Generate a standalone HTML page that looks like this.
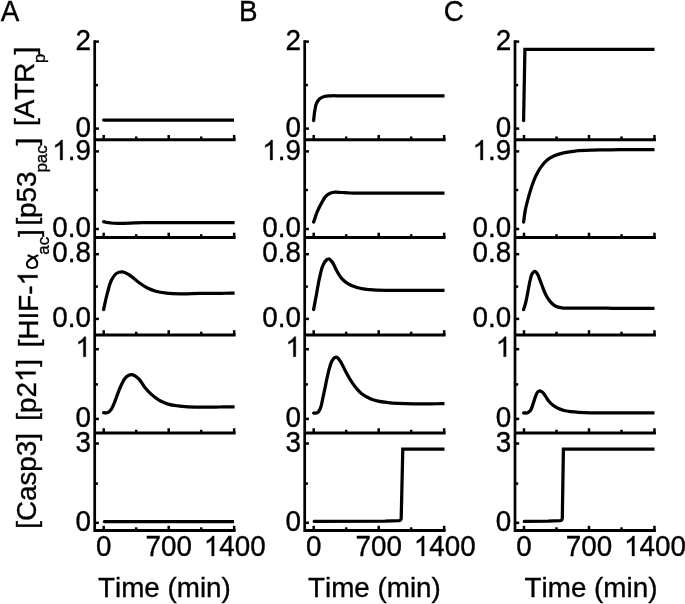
<!DOCTYPE html>
<html><head><meta charset="utf-8"><title>Figure</title>
<style>html,body{margin:0;padding:0;background:#fff;}svg{display:block;will-change:transform;}text{font-family:"Liberation Sans",sans-serif;fill:#000;stroke:#000;stroke-width:0.35px;font-kerning:none;}.h{fill:none;stroke:none;}.g{fill:#000;stroke:#000;stroke-width:25.8;}</style></head><body>
<svg width="685" height="604" viewBox="0 0 685 604">
<rect width="685" height="604" fill="#fff"/>
<g stroke="#000" fill="none" stroke-linecap="butt">
<line x1="94.70" y1="40.30" x2="94.70" y2="531.90" stroke-width="2.70"/>
<line x1="94.70" y1="139.65" x2="235.60" y2="139.65" stroke-width="3.0"/>
<line x1="103.70" y1="139.65" x2="103.70" y2="134.95" stroke-width="2.50"/>
<line x1="136.20" y1="139.65" x2="136.20" y2="136.45" stroke-width="2.50"/>
<line x1="168.70" y1="139.65" x2="168.70" y2="134.95" stroke-width="2.50"/>
<line x1="201.20" y1="139.65" x2="201.20" y2="136.45" stroke-width="2.50"/>
<line x1="234.15" y1="139.65" x2="234.15" y2="134.95" stroke-width="2.50"/>
<line x1="94.70" y1="41.60" x2="98.90" y2="41.60" stroke-width="2.50"/>
<line x1="94.70" y1="128.60" x2="98.90" y2="128.60" stroke-width="2.50"/>
<line x1="94.70" y1="85.10" x2="97.90" y2="85.10" stroke-width="2.50"/>
<line x1="94.70" y1="237.40" x2="235.60" y2="237.40" stroke-width="3.0"/>
<line x1="103.70" y1="237.40" x2="103.70" y2="232.70" stroke-width="2.50"/>
<line x1="136.20" y1="237.40" x2="136.20" y2="234.20" stroke-width="2.50"/>
<line x1="168.70" y1="237.40" x2="168.70" y2="232.70" stroke-width="2.50"/>
<line x1="201.20" y1="237.40" x2="201.20" y2="234.20" stroke-width="2.50"/>
<line x1="234.15" y1="237.40" x2="234.15" y2="232.70" stroke-width="2.50"/>
<line x1="94.70" y1="151.40" x2="98.90" y2="151.40" stroke-width="2.50"/>
<line x1="94.70" y1="229.00" x2="98.90" y2="229.00" stroke-width="2.50"/>
<line x1="94.70" y1="190.00" x2="97.90" y2="190.00" stroke-width="2.50"/>
<line x1="94.70" y1="334.90" x2="235.60" y2="334.90" stroke-width="3.0"/>
<line x1="103.70" y1="334.90" x2="103.70" y2="330.20" stroke-width="2.50"/>
<line x1="136.20" y1="334.90" x2="136.20" y2="331.70" stroke-width="2.50"/>
<line x1="168.70" y1="334.90" x2="168.70" y2="330.20" stroke-width="2.50"/>
<line x1="201.20" y1="334.90" x2="201.20" y2="331.70" stroke-width="2.50"/>
<line x1="234.15" y1="334.90" x2="234.15" y2="330.20" stroke-width="2.50"/>
<line x1="94.70" y1="254.20" x2="98.90" y2="254.20" stroke-width="2.50"/>
<line x1="94.70" y1="318.90" x2="98.90" y2="318.90" stroke-width="2.50"/>
<line x1="94.70" y1="286.60" x2="97.90" y2="286.60" stroke-width="2.50"/>
<line x1="94.70" y1="432.95" x2="235.60" y2="432.95" stroke-width="3.0"/>
<line x1="103.70" y1="432.95" x2="103.70" y2="428.25" stroke-width="2.50"/>
<line x1="136.20" y1="432.95" x2="136.20" y2="429.75" stroke-width="2.50"/>
<line x1="168.70" y1="432.95" x2="168.70" y2="428.25" stroke-width="2.50"/>
<line x1="201.20" y1="432.95" x2="201.20" y2="429.75" stroke-width="2.50"/>
<line x1="234.15" y1="432.95" x2="234.15" y2="428.25" stroke-width="2.50"/>
<line x1="94.70" y1="349.20" x2="98.90" y2="349.20" stroke-width="2.50"/>
<line x1="94.70" y1="418.90" x2="98.90" y2="418.90" stroke-width="2.50"/>
<line x1="94.70" y1="384.40" x2="97.90" y2="384.40" stroke-width="2.50"/>
<line x1="94.70" y1="530.50" x2="235.60" y2="530.50" stroke-width="3.0"/>
<line x1="103.70" y1="530.50" x2="103.70" y2="525.80" stroke-width="2.50"/>
<line x1="136.20" y1="530.50" x2="136.20" y2="527.30" stroke-width="2.50"/>
<line x1="168.70" y1="530.50" x2="168.70" y2="525.80" stroke-width="2.50"/>
<line x1="201.20" y1="530.50" x2="201.20" y2="527.30" stroke-width="2.50"/>
<line x1="234.15" y1="530.50" x2="234.15" y2="525.80" stroke-width="2.50"/>
<line x1="94.70" y1="443.50" x2="98.90" y2="443.50" stroke-width="2.50"/>
<line x1="94.70" y1="522.80" x2="98.90" y2="522.80" stroke-width="2.50"/>
<line x1="94.70" y1="483.60" x2="97.90" y2="483.60" stroke-width="2.50"/>
<line x1="304.70" y1="40.30" x2="304.70" y2="531.90" stroke-width="2.70"/>
<line x1="304.70" y1="139.65" x2="445.60" y2="139.65" stroke-width="3.0"/>
<line x1="313.70" y1="139.65" x2="313.70" y2="134.95" stroke-width="2.50"/>
<line x1="346.20" y1="139.65" x2="346.20" y2="136.45" stroke-width="2.50"/>
<line x1="378.70" y1="139.65" x2="378.70" y2="134.95" stroke-width="2.50"/>
<line x1="411.20" y1="139.65" x2="411.20" y2="136.45" stroke-width="2.50"/>
<line x1="444.15" y1="139.65" x2="444.15" y2="134.95" stroke-width="2.50"/>
<line x1="304.70" y1="41.60" x2="308.90" y2="41.60" stroke-width="2.50"/>
<line x1="304.70" y1="128.60" x2="308.90" y2="128.60" stroke-width="2.50"/>
<line x1="304.70" y1="85.10" x2="307.90" y2="85.10" stroke-width="2.50"/>
<line x1="304.70" y1="237.40" x2="445.60" y2="237.40" stroke-width="3.0"/>
<line x1="313.70" y1="237.40" x2="313.70" y2="232.70" stroke-width="2.50"/>
<line x1="346.20" y1="237.40" x2="346.20" y2="234.20" stroke-width="2.50"/>
<line x1="378.70" y1="237.40" x2="378.70" y2="232.70" stroke-width="2.50"/>
<line x1="411.20" y1="237.40" x2="411.20" y2="234.20" stroke-width="2.50"/>
<line x1="444.15" y1="237.40" x2="444.15" y2="232.70" stroke-width="2.50"/>
<line x1="304.70" y1="151.40" x2="308.90" y2="151.40" stroke-width="2.50"/>
<line x1="304.70" y1="229.00" x2="308.90" y2="229.00" stroke-width="2.50"/>
<line x1="304.70" y1="190.00" x2="307.90" y2="190.00" stroke-width="2.50"/>
<line x1="304.70" y1="334.90" x2="445.60" y2="334.90" stroke-width="3.0"/>
<line x1="313.70" y1="334.90" x2="313.70" y2="330.20" stroke-width="2.50"/>
<line x1="346.20" y1="334.90" x2="346.20" y2="331.70" stroke-width="2.50"/>
<line x1="378.70" y1="334.90" x2="378.70" y2="330.20" stroke-width="2.50"/>
<line x1="411.20" y1="334.90" x2="411.20" y2="331.70" stroke-width="2.50"/>
<line x1="444.15" y1="334.90" x2="444.15" y2="330.20" stroke-width="2.50"/>
<line x1="304.70" y1="254.20" x2="308.90" y2="254.20" stroke-width="2.50"/>
<line x1="304.70" y1="318.90" x2="308.90" y2="318.90" stroke-width="2.50"/>
<line x1="304.70" y1="286.60" x2="307.90" y2="286.60" stroke-width="2.50"/>
<line x1="304.70" y1="432.95" x2="445.60" y2="432.95" stroke-width="3.0"/>
<line x1="313.70" y1="432.95" x2="313.70" y2="428.25" stroke-width="2.50"/>
<line x1="346.20" y1="432.95" x2="346.20" y2="429.75" stroke-width="2.50"/>
<line x1="378.70" y1="432.95" x2="378.70" y2="428.25" stroke-width="2.50"/>
<line x1="411.20" y1="432.95" x2="411.20" y2="429.75" stroke-width="2.50"/>
<line x1="444.15" y1="432.95" x2="444.15" y2="428.25" stroke-width="2.50"/>
<line x1="304.70" y1="349.20" x2="308.90" y2="349.20" stroke-width="2.50"/>
<line x1="304.70" y1="418.90" x2="308.90" y2="418.90" stroke-width="2.50"/>
<line x1="304.70" y1="384.40" x2="307.90" y2="384.40" stroke-width="2.50"/>
<line x1="304.70" y1="530.50" x2="445.60" y2="530.50" stroke-width="3.0"/>
<line x1="313.70" y1="530.50" x2="313.70" y2="525.80" stroke-width="2.50"/>
<line x1="346.20" y1="530.50" x2="346.20" y2="527.30" stroke-width="2.50"/>
<line x1="378.70" y1="530.50" x2="378.70" y2="525.80" stroke-width="2.50"/>
<line x1="411.20" y1="530.50" x2="411.20" y2="527.30" stroke-width="2.50"/>
<line x1="444.15" y1="530.50" x2="444.15" y2="525.80" stroke-width="2.50"/>
<line x1="304.70" y1="443.50" x2="308.90" y2="443.50" stroke-width="2.50"/>
<line x1="304.70" y1="522.80" x2="308.90" y2="522.80" stroke-width="2.50"/>
<line x1="304.70" y1="483.60" x2="307.90" y2="483.60" stroke-width="2.50"/>
<line x1="515.00" y1="40.30" x2="515.00" y2="531.90" stroke-width="2.70"/>
<line x1="515.00" y1="139.65" x2="655.90" y2="139.65" stroke-width="3.0"/>
<line x1="524.00" y1="139.65" x2="524.00" y2="134.95" stroke-width="2.50"/>
<line x1="556.50" y1="139.65" x2="556.50" y2="136.45" stroke-width="2.50"/>
<line x1="589.00" y1="139.65" x2="589.00" y2="134.95" stroke-width="2.50"/>
<line x1="621.50" y1="139.65" x2="621.50" y2="136.45" stroke-width="2.50"/>
<line x1="654.45" y1="139.65" x2="654.45" y2="134.95" stroke-width="2.50"/>
<line x1="515.00" y1="41.60" x2="519.20" y2="41.60" stroke-width="2.50"/>
<line x1="515.00" y1="128.60" x2="519.20" y2="128.60" stroke-width="2.50"/>
<line x1="515.00" y1="85.10" x2="518.20" y2="85.10" stroke-width="2.50"/>
<line x1="515.00" y1="237.40" x2="655.90" y2="237.40" stroke-width="3.0"/>
<line x1="524.00" y1="237.40" x2="524.00" y2="232.70" stroke-width="2.50"/>
<line x1="556.50" y1="237.40" x2="556.50" y2="234.20" stroke-width="2.50"/>
<line x1="589.00" y1="237.40" x2="589.00" y2="232.70" stroke-width="2.50"/>
<line x1="621.50" y1="237.40" x2="621.50" y2="234.20" stroke-width="2.50"/>
<line x1="654.45" y1="237.40" x2="654.45" y2="232.70" stroke-width="2.50"/>
<line x1="515.00" y1="151.40" x2="519.20" y2="151.40" stroke-width="2.50"/>
<line x1="515.00" y1="229.00" x2="519.20" y2="229.00" stroke-width="2.50"/>
<line x1="515.00" y1="190.00" x2="518.20" y2="190.00" stroke-width="2.50"/>
<line x1="515.00" y1="334.90" x2="655.90" y2="334.90" stroke-width="3.0"/>
<line x1="524.00" y1="334.90" x2="524.00" y2="330.20" stroke-width="2.50"/>
<line x1="556.50" y1="334.90" x2="556.50" y2="331.70" stroke-width="2.50"/>
<line x1="589.00" y1="334.90" x2="589.00" y2="330.20" stroke-width="2.50"/>
<line x1="621.50" y1="334.90" x2="621.50" y2="331.70" stroke-width="2.50"/>
<line x1="654.45" y1="334.90" x2="654.45" y2="330.20" stroke-width="2.50"/>
<line x1="515.00" y1="254.20" x2="519.20" y2="254.20" stroke-width="2.50"/>
<line x1="515.00" y1="318.90" x2="519.20" y2="318.90" stroke-width="2.50"/>
<line x1="515.00" y1="286.60" x2="518.20" y2="286.60" stroke-width="2.50"/>
<line x1="515.00" y1="432.95" x2="655.90" y2="432.95" stroke-width="3.0"/>
<line x1="524.00" y1="432.95" x2="524.00" y2="428.25" stroke-width="2.50"/>
<line x1="556.50" y1="432.95" x2="556.50" y2="429.75" stroke-width="2.50"/>
<line x1="589.00" y1="432.95" x2="589.00" y2="428.25" stroke-width="2.50"/>
<line x1="621.50" y1="432.95" x2="621.50" y2="429.75" stroke-width="2.50"/>
<line x1="654.45" y1="432.95" x2="654.45" y2="428.25" stroke-width="2.50"/>
<line x1="515.00" y1="349.20" x2="519.20" y2="349.20" stroke-width="2.50"/>
<line x1="515.00" y1="418.90" x2="519.20" y2="418.90" stroke-width="2.50"/>
<line x1="515.00" y1="384.40" x2="518.20" y2="384.40" stroke-width="2.50"/>
<line x1="515.00" y1="530.50" x2="655.90" y2="530.50" stroke-width="3.0"/>
<line x1="524.00" y1="530.50" x2="524.00" y2="525.80" stroke-width="2.50"/>
<line x1="556.50" y1="530.50" x2="556.50" y2="527.30" stroke-width="2.50"/>
<line x1="589.00" y1="530.50" x2="589.00" y2="525.80" stroke-width="2.50"/>
<line x1="621.50" y1="530.50" x2="621.50" y2="527.30" stroke-width="2.50"/>
<line x1="654.45" y1="530.50" x2="654.45" y2="525.80" stroke-width="2.50"/>
<line x1="515.00" y1="443.50" x2="519.20" y2="443.50" stroke-width="2.50"/>
<line x1="515.00" y1="522.80" x2="519.20" y2="522.80" stroke-width="2.50"/>
<line x1="515.00" y1="483.60" x2="518.20" y2="483.60" stroke-width="2.50"/>
</g>
<g stroke="#000" fill="none" stroke-width="3.25" stroke-linejoin="miter" stroke-linecap="butt">
<path d="M103.60 120.00 L234.00 120.00"/>
<path d="M103.60 221.70 C104.57 221.93 105.52 222.21 106.50 222.40 C107.98 222.69 109.49 222.85 111.00 223.00 C113.99 223.30 117.00 223.26 120.00 223.30 C123.33 223.34 126.67 223.35 130.00 223.20 C132.00 223.11 134.00 222.90 136.00 222.80 C138.00 222.70 140.00 222.64 142.00 222.60 C144.81 222.55 147.61 222.60 150.42 222.60 C153.22 222.60 156.03 222.60 158.84 222.60 C161.64 222.60 164.45 222.60 167.25 222.60 C170.06 222.60 172.87 222.60 175.67 222.60 C178.48 222.60 181.28 222.60 184.09 222.60 C186.90 222.60 189.70 222.60 192.51 222.60 C195.32 222.60 198.12 222.60 200.93 222.60 C203.73 222.60 206.54 222.60 209.35 222.60 C212.15 222.60 214.96 222.60 217.76 222.60 C220.57 222.60 223.38 222.60 226.18 222.60 C228.99 222.60 231.79 222.60 234.60 222.60"/>
<path d="M103.60 309.60 C104.90 303.93 105.90 298.19 107.50 292.60 C108.78 288.14 109.55 283.40 111.90 279.40 C113.14 277.28 114.24 274.83 116.30 273.50 C118.07 272.35 120.29 271.71 122.40 271.80 C124.96 271.91 127.18 273.71 129.40 275.00 C132.64 276.89 135.16 279.81 138.20 282.00 C141.01 284.03 143.82 286.12 146.90 287.70 C149.71 289.14 152.67 290.30 155.70 291.20 C159.24 292.25 162.93 292.74 166.60 293.20 C171.70 293.84 176.86 293.84 182.00 293.90 C187.84 293.96 193.66 293.48 199.50 293.40 C202.42 293.36 205.35 293.37 208.28 293.35 C211.20 293.33 214.12 293.32 217.05 293.30 C219.97 293.28 222.90 293.27 225.82 293.25 C228.75 293.23 231.67 293.22 234.60 293.20"/>
<path d="M103.60 412.70 C105.03 412.67 106.58 413.15 107.90 412.60 C109.10 412.10 109.96 410.99 110.80 410.00 C112.23 408.32 112.89 406.11 113.80 404.10 C114.91 401.63 115.73 399.03 116.70 396.50 C117.67 393.97 118.55 391.40 119.60 388.90 C120.51 386.74 121.38 384.56 122.50 382.50 C123.38 380.88 124.12 379.12 125.40 377.80 C126.28 376.89 127.26 376.04 128.40 375.50 C129.31 375.07 130.30 374.72 131.30 374.70 C132.51 374.67 133.70 375.18 134.80 375.70 C136.39 376.45 137.64 377.78 138.90 379.00 C141.30 381.34 142.58 384.61 144.70 387.20 C146.54 389.45 148.47 391.63 150.60 393.60 C152.42 395.29 154.36 396.88 156.40 398.30 C158.25 399.59 160.17 400.81 162.20 401.80 C164.10 402.73 166.08 403.48 168.10 404.10 C171.31 405.08 174.68 405.45 178.00 405.90 C181.32 406.35 184.66 406.58 188.00 406.80 C193.29 407.14 198.60 407.20 203.90 407.20 C206.46 407.20 209.02 407.13 211.57 407.10 C214.13 407.07 216.69 407.03 219.25 407.00 C221.81 406.97 224.37 406.93 226.93 406.90 C229.48 406.87 232.04 406.83 234.60 406.80"/>
<path d="M104.40 521.60 L234.00 521.60"/>
<path d="M313.60 120.60 C314.03 117.07 314.24 113.50 314.90 110.00 C315.31 107.81 315.48 105.52 316.40 103.50 C317.20 101.73 318.21 99.94 319.70 98.70 C320.96 97.65 322.54 97.00 324.10 96.50 C326.21 95.82 328.49 95.93 330.70 95.80 C333.61 95.62 336.54 95.80 339.45 95.80 C342.37 95.80 345.29 95.80 348.21 95.80 C351.13 95.80 354.04 95.80 356.96 95.80 C359.88 95.80 362.80 95.80 365.72 95.80 C368.63 95.80 371.55 95.80 374.47 95.80 C377.39 95.80 380.31 95.80 383.22 95.80 C386.14 95.80 389.06 95.80 391.98 95.80 C394.89 95.80 397.81 95.80 400.73 95.80 C403.65 95.80 406.57 95.80 409.48 95.80 C412.40 95.80 415.32 95.80 418.24 95.80 C421.16 95.80 424.07 95.80 426.99 95.80 C429.91 95.80 432.83 95.80 435.75 95.80 C438.66 95.80 441.58 95.80 444.50 95.80"/>
<path d="M313.60 222.10 C314.90 218.47 315.97 214.74 317.50 211.20 C318.80 208.19 320.23 205.23 321.90 202.40 C323.24 200.12 324.33 197.57 326.30 195.80 C327.59 194.64 329.08 193.63 330.70 193.00 C332.06 192.47 333.54 192.25 335.00 192.10 C337.19 191.88 339.40 192.37 341.60 192.50 C344.53 192.67 347.46 192.92 350.40 193.00 C353.25 193.08 356.10 193.00 358.95 193.00 C361.81 193.00 364.66 193.00 367.51 193.00 C370.36 193.00 373.21 193.00 376.06 193.00 C378.92 193.00 381.77 193.00 384.62 193.00 C387.47 193.00 390.32 193.00 393.17 193.00 C396.02 193.00 398.88 193.00 401.73 193.00 C404.58 193.00 407.43 193.00 410.28 193.00 C413.13 193.00 415.98 193.00 418.84 193.00 C421.69 193.00 424.54 193.00 427.39 193.00 C430.24 193.00 433.09 193.00 435.95 193.00 C438.80 193.00 441.65 193.00 444.50 193.00"/>
<path d="M313.60 309.60 C314.53 304.63 315.47 299.67 316.40 294.70 C317.50 288.87 318.32 282.97 319.70 277.20 C320.66 273.17 321.11 268.89 323.00 265.20 C323.92 263.40 324.65 261.27 326.30 260.10 C326.97 259.63 327.68 259.05 328.50 259.00 C329.88 258.91 330.82 260.53 331.80 261.50 C333.97 263.65 334.57 266.95 336.10 269.60 C337.82 272.57 339.30 275.75 341.60 278.30 C343.52 280.43 345.77 282.29 348.20 283.80 C350.88 285.46 353.89 286.56 356.90 287.50 C361.16 288.84 365.67 289.21 370.10 289.70 C375.90 290.35 381.76 290.33 387.60 290.40 C390.31 290.43 393.02 290.40 395.73 290.40 C398.44 290.40 401.15 290.40 403.86 290.40 C406.57 290.40 409.28 290.40 411.99 290.40 C414.70 290.40 417.40 290.40 420.11 290.40 C422.82 290.40 425.53 290.40 428.24 290.40 C430.95 290.40 433.66 290.40 436.37 290.40 C439.08 290.40 441.79 290.40 444.50 290.40"/>
<path d="M313.60 413.00 C314.83 412.93 316.17 413.31 317.30 412.80 C318.92 412.07 319.49 409.98 320.30 408.40 C321.75 405.56 321.88 402.21 322.60 399.10 C323.42 395.58 324.15 392.04 324.90 388.50 C325.72 384.64 326.42 380.75 327.30 376.90 C328.02 373.75 328.64 370.58 329.60 367.50 C330.27 365.34 330.75 363.05 331.90 361.10 C332.58 359.95 333.16 358.58 334.30 357.90 C334.91 357.54 335.59 357.17 336.30 357.20 C337.41 357.25 338.12 358.50 338.90 359.30 C340.19 360.63 340.97 362.39 341.90 364.00 C343.21 366.26 344.19 368.69 345.40 371.00 C346.53 373.15 347.67 375.30 348.90 377.40 C350.20 379.61 351.51 381.81 353.00 383.90 C354.28 385.70 355.64 387.44 357.10 389.10 C358.55 390.75 359.97 392.45 361.70 393.80 C363.15 394.93 364.80 395.80 366.40 396.70 C368.28 397.76 370.18 398.84 372.20 399.60 C374.11 400.32 376.11 400.76 378.10 401.20 C381.35 401.92 384.69 402.23 388.00 402.60 C391.32 402.97 394.66 403.20 398.00 403.40 C403.29 403.72 408.60 403.87 413.90 403.90 C416.45 403.91 419.00 403.87 421.55 403.85 C424.10 403.83 426.65 403.82 429.20 403.80 C431.75 403.78 434.30 403.77 436.85 403.75 C439.40 403.73 441.95 403.72 444.50 403.70"/>
<path d="M314.2 521.4 L385 521.2 L398.6 520.6 Q400.9 520.4 401.2 518.4 L402.8 449 L444.5 449"/>
<path d="M523.6 120.6 L524.9 49.4 L654.5 49.4"/>
<path d="M523.60 222.10 C524.17 218.10 524.54 214.07 525.30 210.10 C526.16 205.65 527.38 201.27 528.60 196.90 C529.62 193.24 530.65 189.58 531.90 186.00 C533.20 182.27 534.53 178.53 536.30 175.00 C537.61 172.38 539.00 169.78 540.70 167.40 C542.59 164.75 544.67 162.16 547.20 160.10 C549.21 158.47 551.47 157.12 553.80 156.00 C556.58 154.66 559.61 153.87 562.60 153.10 C566.88 151.99 571.31 151.50 575.70 151.00 C581.50 150.34 587.36 150.27 593.20 150.10 C596.12 150.01 599.04 149.99 601.97 149.93 C604.89 149.88 607.81 149.82 610.73 149.77 C613.66 149.71 616.58 149.63 619.50 149.60 C622.42 149.57 625.33 149.60 628.25 149.60 C631.17 149.60 634.08 149.60 637.00 149.60 C639.92 149.60 642.83 149.60 645.75 149.60 C648.67 149.60 651.58 149.60 654.50 149.60"/>
<path d="M523.50 309.70 C524.00 308.23 524.56 306.78 525.00 305.30 C525.72 302.91 526.18 300.44 526.70 298.00 C527.37 294.85 527.88 291.66 528.50 288.50 C529.08 285.53 529.49 282.52 530.30 279.60 C530.87 277.57 530.98 275.24 532.30 273.60 C533.01 272.72 533.77 271.37 534.90 271.40 C536.08 271.43 536.69 272.96 537.40 273.90 C538.71 275.63 539.09 277.89 539.90 279.90 C540.95 282.51 541.86 285.18 542.90 287.80 C543.83 290.15 544.64 292.56 545.80 294.80 C546.69 296.53 547.63 298.24 548.80 299.80 C549.71 301.01 550.69 302.17 551.80 303.20 C553.02 304.34 554.32 305.43 555.80 306.20 C557.61 307.15 559.68 307.54 561.70 307.90 C564.33 308.36 567.03 308.15 569.70 308.20 C572.53 308.26 575.35 308.21 578.18 308.21 C581.01 308.21 583.83 308.22 586.66 308.22 C589.49 308.22 592.31 308.23 595.14 308.23 C597.97 308.23 600.79 308.24 603.62 308.24 C606.45 308.24 609.27 308.25 612.10 308.25 C614.93 308.25 617.75 308.26 620.58 308.26 C623.41 308.26 626.23 308.27 629.06 308.27 C631.89 308.27 634.71 308.28 637.54 308.28 C640.37 308.28 643.19 308.29 646.02 308.29 C648.85 308.29 651.67 308.30 654.50 308.30"/>
<path d="M523.60 412.90 C524.97 412.87 526.43 413.32 527.70 412.80 C528.73 412.38 529.56 411.53 530.30 410.70 C531.76 409.05 532.02 406.66 532.80 404.60 C533.76 402.07 534.34 399.39 535.40 396.90 C536.14 395.16 536.38 392.92 537.90 391.80 C538.52 391.34 539.22 390.81 540.00 390.80 C540.97 390.79 541.74 391.69 542.50 392.30 C543.83 393.38 544.60 395.01 545.60 396.40 C546.68 397.90 547.54 399.56 548.70 401.00 C549.90 402.48 551.21 403.90 552.70 405.10 C554.28 406.38 556.07 407.41 557.90 408.30 C559.84 409.24 561.91 409.94 564.00 410.50 C566.32 411.12 568.72 411.39 571.10 411.70 C573.82 412.05 576.56 412.22 579.30 412.40 C582.86 412.63 586.43 412.74 590.00 412.80 C592.69 412.85 595.38 412.81 598.06 412.81 C600.75 412.82 603.44 412.82 606.12 412.82 C608.81 412.83 611.50 412.83 614.19 412.84 C616.88 412.84 619.56 412.85 622.25 412.85 C624.94 412.85 627.62 412.86 630.31 412.86 C633.00 412.87 635.69 412.87 638.38 412.88 C641.06 412.88 643.75 412.88 646.44 412.89 C649.12 412.89 651.81 412.90 654.50 412.90"/>
<path d="M524.2 521.4 L548 521.2 L560.0 520.7 Q562.1 520.5 562.3 518.4 L563.4 449 L654.5 449"/>
</g>
<g fill="#000"><circle cx="103.60" cy="120.00" r="1.62"/><circle cx="103.60" cy="221.70" r="1.62"/><circle cx="103.60" cy="309.60" r="1.62"/><circle cx="103.60" cy="412.70" r="1.62"/><circle cx="104.40" cy="521.60" r="1.62"/><circle cx="313.60" cy="120.60" r="1.62"/><circle cx="313.60" cy="222.10" r="1.62"/><circle cx="313.60" cy="309.60" r="1.62"/><circle cx="313.60" cy="413.00" r="1.62"/><circle cx="314.20" cy="521.40" r="1.62"/><circle cx="523.60" cy="120.60" r="1.62"/><circle cx="523.60" cy="222.10" r="1.62"/><circle cx="523.50" cy="309.70" r="1.62"/><circle cx="523.60" cy="412.90" r="1.62"/><circle cx="524.20" cy="521.40" r="1.62"/></g>
<g font-size="27.8">
<text transform="translate(75.44 50.00) scale(1 1.040)">2</text>
<text transform="translate(75.44 137.20) scale(1 1.040)">0</text>
<text transform="translate(52.25 160.00) scale(1 1.040)"><tspan class="h">1</tspan>.9</text>
<path class="g" transform="translate(52.25 160.00) scale(0.013574 -0.013574)" d="M763 0H583V1147Q518 1085 412.5 1023T223 930V1104Q373 1174.5 485.5 1275T645 1470H763Z"/>
<text transform="translate(52.25 237.20) scale(1 1.040)">0.0</text>
<text transform="translate(52.25 261.90) scale(1 1.040)">0.8</text>
<text transform="translate(52.25 327.40) scale(1 1.040)">0.0</text>
<text transform="translate(75.44 356.70) scale(1 1.040)"><tspan class="h">1</tspan></text>
<path class="g" transform="translate(75.44 356.70) scale(0.013574 -0.013574)" d="M763 0H583V1147Q518 1085 412.5 1023T223 930V1104Q373 1174.5 485.5 1275T645 1470H763Z"/>
<text transform="translate(75.44 427.40) scale(1 1.040)">0</text>
<text transform="translate(75.44 451.50) scale(1 1.040)">3</text>
<text transform="translate(75.44 531.30) scale(1 1.040)">0</text>
<text transform="translate(95.97 555.90) scale(1 1.040)">0</text>
<text transform="translate(145.51 555.90) scale(1 1.040)">700</text>
<text transform="translate(203.78 555.90) scale(1 1.040)"><tspan class="h">1</tspan>400</text>
<path class="g" transform="translate(203.78 555.90) scale(0.013574 -0.013574)" d="M763 0H583V1147Q518 1085 412.5 1023T223 930V1104Q373 1174.5 485.5 1275T645 1470H763Z"/>
<text x="98.00" y="597.20">Time (min)</text>
<text transform="translate(285.44 50.00) scale(1 1.040)">2</text>
<text transform="translate(285.44 137.20) scale(1 1.040)">0</text>
<text transform="translate(262.25 160.00) scale(1 1.040)"><tspan class="h">1</tspan>.9</text>
<path class="g" transform="translate(262.25 160.00) scale(0.013574 -0.013574)" d="M763 0H583V1147Q518 1085 412.5 1023T223 930V1104Q373 1174.5 485.5 1275T645 1470H763Z"/>
<text transform="translate(262.25 237.20) scale(1 1.040)">0.0</text>
<text transform="translate(262.25 261.90) scale(1 1.040)">0.8</text>
<text transform="translate(262.25 327.40) scale(1 1.040)">0.0</text>
<text transform="translate(285.44 356.70) scale(1 1.040)"><tspan class="h">1</tspan></text>
<path class="g" transform="translate(285.44 356.70) scale(0.013574 -0.013574)" d="M763 0H583V1147Q518 1085 412.5 1023T223 930V1104Q373 1174.5 485.5 1275T645 1470H763Z"/>
<text transform="translate(285.44 427.40) scale(1 1.040)">0</text>
<text transform="translate(285.44 451.50) scale(1 1.040)">3</text>
<text transform="translate(285.44 531.30) scale(1 1.040)">0</text>
<text transform="translate(305.97 555.90) scale(1 1.040)">0</text>
<text transform="translate(355.51 555.90) scale(1 1.040)">700</text>
<text transform="translate(413.78 555.90) scale(1 1.040)"><tspan class="h">1</tspan>400</text>
<path class="g" transform="translate(413.78 555.90) scale(0.013574 -0.013574)" d="M763 0H583V1147Q518 1085 412.5 1023T223 930V1104Q373 1174.5 485.5 1275T645 1470H763Z"/>
<text x="308.00" y="597.20">Time (min)</text>
<text transform="translate(495.74 50.00) scale(1 1.040)">2</text>
<text transform="translate(495.74 137.20) scale(1 1.040)">0</text>
<text transform="translate(472.55 160.00) scale(1 1.040)"><tspan class="h">1</tspan>.9</text>
<path class="g" transform="translate(472.55 160.00) scale(0.013574 -0.013574)" d="M763 0H583V1147Q518 1085 412.5 1023T223 930V1104Q373 1174.5 485.5 1275T645 1470H763Z"/>
<text transform="translate(472.55 237.20) scale(1 1.040)">0.0</text>
<text transform="translate(472.55 261.90) scale(1 1.040)">0.8</text>
<text transform="translate(472.55 327.40) scale(1 1.040)">0.0</text>
<text transform="translate(495.74 356.70) scale(1 1.040)"><tspan class="h">1</tspan></text>
<path class="g" transform="translate(495.74 356.70) scale(0.013574 -0.013574)" d="M763 0H583V1147Q518 1085 412.5 1023T223 930V1104Q373 1174.5 485.5 1275T645 1470H763Z"/>
<text transform="translate(495.74 427.40) scale(1 1.040)">0</text>
<text transform="translate(495.74 451.50) scale(1 1.040)">3</text>
<text transform="translate(495.74 531.30) scale(1 1.040)">0</text>
<text transform="translate(516.27 555.90) scale(1 1.040)">0</text>
<text transform="translate(565.81 555.90) scale(1 1.040)">700</text>
<text transform="translate(624.08 555.90) scale(1 1.040)"><tspan class="h">1</tspan>400</text>
<path class="g" transform="translate(624.08 555.90) scale(0.013574 -0.013574)" d="M763 0H583V1147Q518 1085 412.5 1023T223 930V1104Q373 1174.5 485.5 1275T645 1470H763Z"/>
<text x="524.60" y="597.20">Time (min)</text>
<text transform="translate(0.70 21.00) scale(1 1.040)">A</text>
<text transform="translate(239.00 21.00) scale(1 1.040)">B</text>
<text transform="translate(443.80 21.00) scale(1 1.040)">C</text>
</g>
<g transform="translate(34.30 125.90) rotate(-90)" font-size="27.8"><text><tspan>[ATR</tspan><tspan font-size="16.5" dy="10.2" dx="-0.5">p</tspan><tspan dy="-10.2" dx="-0.7">]</tspan></text></g>
<g transform="translate(35.60 225.60) rotate(-90)" font-size="27.8"><text><tspan>[p53</tspan><tspan font-size="17.0" dy="11.1" dx="-1.1">pac</tspan><tspan dy="-11.1" dx="-0.4">]</tspan></text></g>
<g transform="translate(37.60 347.30) rotate(-90)" font-size="27.8"><text><tspan>[HIF-<tspan class="h">1</tspan><tspan class="h">α</tspan></tspan><tspan font-size="17.0" dy="11.0" dx="-0.7">ac</tspan><tspan dy="-11.0" dx="-0.2">]</tspan></text><path class="g" transform="translate(61.76 0.00) scale(0.013574 -0.013574)" d="M763 0H583V1147Q518 1085 412.5 1023T223 930V1104Q373 1174.5 485.5 1275T645 1470H763Z"/><path transform="translate(78.22 0.6)" fill="none" stroke="#000" stroke-width="2.0" stroke-linecap="butt" d="M13.8 -10.6 C12.6 -6.2 9.6 -0.9 5.3 -0.9 C2.4 -0.9 1.1 -3.2 1.1 -6.1 C1.1 -9.0 2.6 -11.3 5.3 -11.3 C9.4 -11.3 11.6 -4.4 13.9 0.1"/></g>
<g transform="translate(35.60 420.80) rotate(-90)" font-size="27.8"><text>[p2<tspan class="h">1</tspan>]</text><path class="g" transform="translate(38.65 0.00) scale(0.013574 -0.013574)" d="M763 0H583V1147Q518 1085 412.5 1023T223 930V1104Q373 1174.5 485.5 1275T645 1470H763Z"/></g>
<g transform="translate(35.60 528.80) rotate(-90)" font-size="27.8"><text>[Casp3]</text></g>
</svg></body></html>
